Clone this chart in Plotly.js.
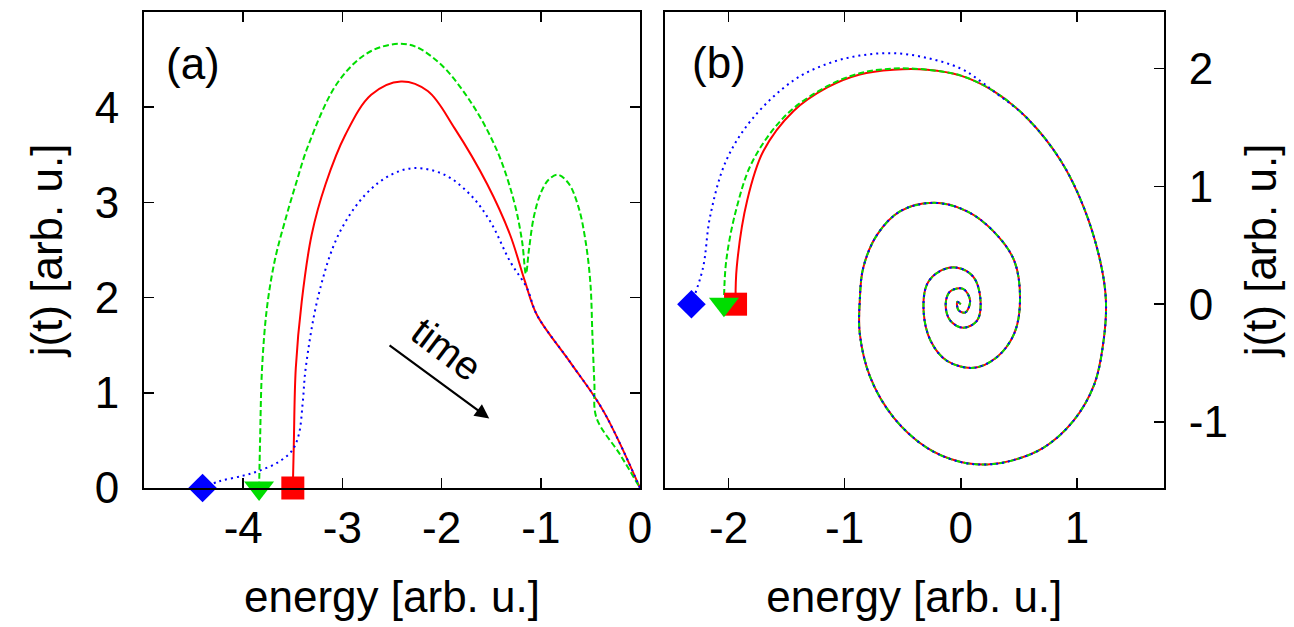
<!DOCTYPE html>
<html>
<head>
<meta charset="utf-8">
<script src="https://cdn.plot.ly/plotly-3.0.1.min.js"></script>
<style>html,body{margin:0;padding:0;background:#fff;}#chart{width:1294px;height:627px;}</style>
</head>
<body>
<div id="chart"></div>
<script>
// ---------- Panel (a): energy vs j(t) ----------
var redAx = [-3.5, -3.49, -3.47, -3.41, -3.31, -3.17, -2.97, -2.71, -2.41, -2.14, -1.87, -1.54, -1.31, -1.16, -1.04, -0.71, -0.37, 0];
var redAy = [0, 0.46, 1.26, 1.96, 2.66, 3.19, 3.71, 4.13, 4.27, 4.17, 3.78, 3.19, 2.66, 2.17, 1.82, 1.33, 0.81, 0];

var greenAx = [-3.84, -3.83, -3.81, -3.76, -3.68, -3.58, -3.47, -3.34, -3.04, -2.71, -2.34, -2.04, -1.71, -1.44, -1.27, -1.19, -1.15, -1.12, -1.07, -1.0, -0.92, -0.83, -0.72, -0.62, -0.55, -0.5, -0.48, -0.46, -0.44, -0.2, 0];
var greenAy = [0, 0.5, 1.26, 1.9, 2.4, 2.8, 3.19, 3.61, 4.27, 4.59, 4.66, 4.48, 4.06, 3.54, 3.01, 2.6, 2.25, 2.5, 2.85, 3.1, 3.24, 3.29, 3.2, 2.95, 2.6, 2.15, 1.61, 1.1, 0.74, 0.35, 0];

var blueAx = [-4.41, -4.24, -4.0, -3.84, -3.65, -3.51, -3.44, -3.40, -3.37, -3.24, -3.04, -2.77, -2.51, -2.27, -1.97, -1.71, -1.51, -1.31, -1.14, -1.04, -0.71, -0.37, 0];
var blueAy = [0, 0.07, 0.13, 0.18, 0.27, 0.39, 0.56, 0.9, 1.26, 2.03, 2.66, 3.08, 3.29, 3.36, 3.29, 3.08, 2.8, 2.38, 2.1, 1.82, 1.33, 0.81, 0];

// ---------- Panel (b): energy vs j(t) spiral ----------
var redBx = [-1.94, -1.93, -1.84, -1.70, -1.44, -1.15, -0.87, -0.58, -0.29, 0];
var redBy = [0, 0.31, 0.88, 1.30, 1.64, 1.84, 1.95, 1.99, 1.99, 1.94];

var greenBx = [-2.04, -2.02, -1.93, -1.79, -1.5, -1.15, -0.87, -0.58, -0.29, 0];
var greenBy = [0, 0.37, 0.82, 1.22, 1.61, 1.85, 1.96, 2.0, 1.99, 1.94];

var blueBx = [-2.32, -2.22, -2.16, -2.02, -1.79, -1.44, -1.15, -0.87, -0.58, -0.29, 0, 0.16];
var blueBy = [0, 0.31, 0.74, 1.22, 1.58, 1.9, 2.04, 2.11, 2.13, 2.09, 2.0, 1.9];

// common spiral after the three curves merge
var spiralX = [0.28, 0.57, 0.86, 1.06, 1.2, 1.25, 1.23, 1.15, 0.97, 0.71, 0.43, 0.23, 0, -0.29, -0.58, -0.78, -0.87, -0.87, -0.84, -0.72, -0.52, -0.23, 0.05, 0.28, 0.46, 0.51, 0.46, 0.31, 0.11, -0.12, -0.26, -0.32, -0.29, -0.18, -0.03, 0.11, 0.17, 0.14, 0.02, -0.09, -0.13, -0.09, 0.02, 0.08, 0.04, -0.02, -0.03, 0];
var spiralY = [1.81, 1.58, 1.22, 0.82, 0.37, 0.03, -0.31, -0.68, -0.99, -1.22, -1.33, -1.36, -1.34, -1.22, -0.96, -0.62, -0.25, 0.03, 0.31, 0.59, 0.79, 0.86, 0.79, 0.62, 0.37, 0.03, -0.25, -0.45, -0.54, -0.48, -0.31, -0.06, 0.17, 0.28, 0.31, 0.23, 0.03, -0.14, -0.2, -0.14, 0, 0.11, 0.13, 0.03, -0.07, -0.05, 0.02, 0];

var xTicksA = [-4, -3, -2, -1, 0];
var xLabelsA = ['-4', '-3', '-2', '-1', '0'];
var yTicksA = [0, 1, 2, 3, 4];
var yLabelsA = ['0', '1', '2', '3', '4'];
var xTicksB = [-2, -1, 0, 1];
var xLabelsB = ['-2', '-1', '0', '1'];
var yTicksB = [-1, 0, 1, 2];
var yLabelsB = ['-1', '0', '1', '2'];

var RED = '#ff0000', GREEN = '#00dd00', BLUE = '#0000ff';
var FONT = 'Liberation Sans, Arial, Helvetica, sans-serif';

function line(x, y, color, dash, xa, ya) {
  return {x: x, y: y, xaxis: xa, yaxis: ya, mode: 'lines', type: 'scatter',
    line: {color: color, width: 2, dash: dash, shape: 'spline', smoothing: 1.0},
    hoverinfo: 'skip', showlegend: false};
}
function marker(x, y, color, symbol, size, xa, ya) {
  return {x: [x], y: [y], xaxis: xa, yaxis: ya, mode: 'markers', type: 'scatter',
    cliponaxis: false, marker: {color: color, symbol: symbol, size: size, line: {width: 0}},
    hoverinfo: 'skip', showlegend: false};
}

var traces = [
  line(redAx, redAy, RED, 'solid', 'x', 'y'),
  line(greenAx, greenAy, GREEN, '6px,3px', 'x', 'y'),
  line(blueAx, blueAy, BLUE, '2px,4px', 'x', 'y'),
  line(redBx.concat(spiralX), redBy.concat(spiralY), RED, 'solid', 'x2', 'y2'),
  line(greenBx.concat(spiralX), greenBy.concat(spiralY), GREEN, '6px,3px', 'x2', 'y2'),
  line(blueBx.concat(spiralX), blueBy.concat(spiralY), BLUE, '2px,4px', 'x2', 'y2'),
  marker(redAx[0], redAy[0], RED, 'square', 23, 'x', 'y'),
  marker(greenAx[0], greenAy[0], GREEN, 'triangle-down', 26, 'x', 'y'),
  marker(blueAx[0], blueAy[0], BLUE, 'diamond', 22, 'x', 'y'),
  marker(redBx[0], redBy[0], RED, 'square', 23, 'x2', 'y2'),
  marker(greenBx[0], greenBy[0], GREEN, 'triangle-down', 26, 'x2', 'y2'),
  marker(blueBx[0], blueBy[0], BLUE, 'diamond', 22, 'x2', 'y2')
];

var axBase = {
  showgrid: false, zeroline: false, showline: true, linecolor: '#000', linewidth: 2,
  ticks: 'inside', ticklen: 10, tickwidth: 1.5, tickcolor: '#000', tickmode: 'array',
  tickfont: {family: FONT, size: 44, color: '#000'}, fixedrange: true
};
function ax(o) { return Object.assign({}, axBase, o); }

var layout = {
  width: 1294, height: 627,
  margin: {l: 0, r: 0, t: 0, b: 0},
  paper_bgcolor: '#fff', plot_bgcolor: '#fff',
  font: {family: FONT, color: '#000'},
  showlegend: false,
  xaxis: ax({domain: [0.1113, 0.4946], range: [-5, 0], tickvals: xTicksA, ticktext: xLabelsA, anchor: 'y', mirror: 'ticks',
    ticklabelstandoff: 0,
    title: {text: 'energy [arb. u.]', font: {family: FONT, size: 44, color: '#000'}, standoff: 30}}),
  yaxis: ax({domain: [0.2217, 0.9809], range: [0, 5], tickvals: yTicksA, ticktext: yLabelsA, anchor: 'x', mirror: 'ticks',
    ticklabelstandoff: 14,
    title: {text: 'j(t) [arb. u.]', font: {family: FONT, size: 44, color: '#000'}, standoff: 18}}),
  xaxis2: ax({domain: [0.5137, 0.8995], range: [-2.55, 1.75], tickvals: xTicksB, ticktext: xLabelsB, anchor: 'y2', mirror: 'ticks',
    ticklabelstandoff: 0,
    title: {text: 'energy [arb. u.]', font: {family: FONT, size: 44, color: '#000'}, standoff: 30}}),
  yaxis2: ax({domain: [0.2217, 0.9809], range: [-1.56, 2.48], tickvals: yTicksB, ticktext: yLabelsB, anchor: 'x2', side: 'right', mirror: true,
    ticklabelstandoff: 14,
    title: {text: 'j(t) [arb. u.]', font: {family: FONT, size: 44, color: '#000'}, standoff: 18}}),
  annotations: [
    {xref: 'x', yref: 'y', x: -4.51, y: 4.46, text: '(a)', showarrow: false,
      font: {family: FONT, size: 44, color: '#000'}},
    {xref: 'x2', yref: 'y2', x: -2.08, y: 2.05, text: '(b)', showarrow: false,
      font: {family: FONT, size: 44, color: '#000'}},
    {xref: 'x', yref: 'y', x: -1.52, y: 0.73, axref: 'x', ayref: 'y', ax: -2.54, ay: 1.51,
      text: '', showarrow: true, arrowhead: 2, arrowsize: 1.3, arrowwidth: 2.2, arrowcolor: '#000'},
    {xref: 'x', yref: 'y', x: -1.95, y: 1.46, text: 'time', showarrow: false, textangle: 37,
      font: {family: FONT, size: 40, color: '#000'}}
  ]
};

Plotly.newPlot('chart', traces, layout, {displayModeBar: false, staticPlot: true});
</script>
</body>
</html>
